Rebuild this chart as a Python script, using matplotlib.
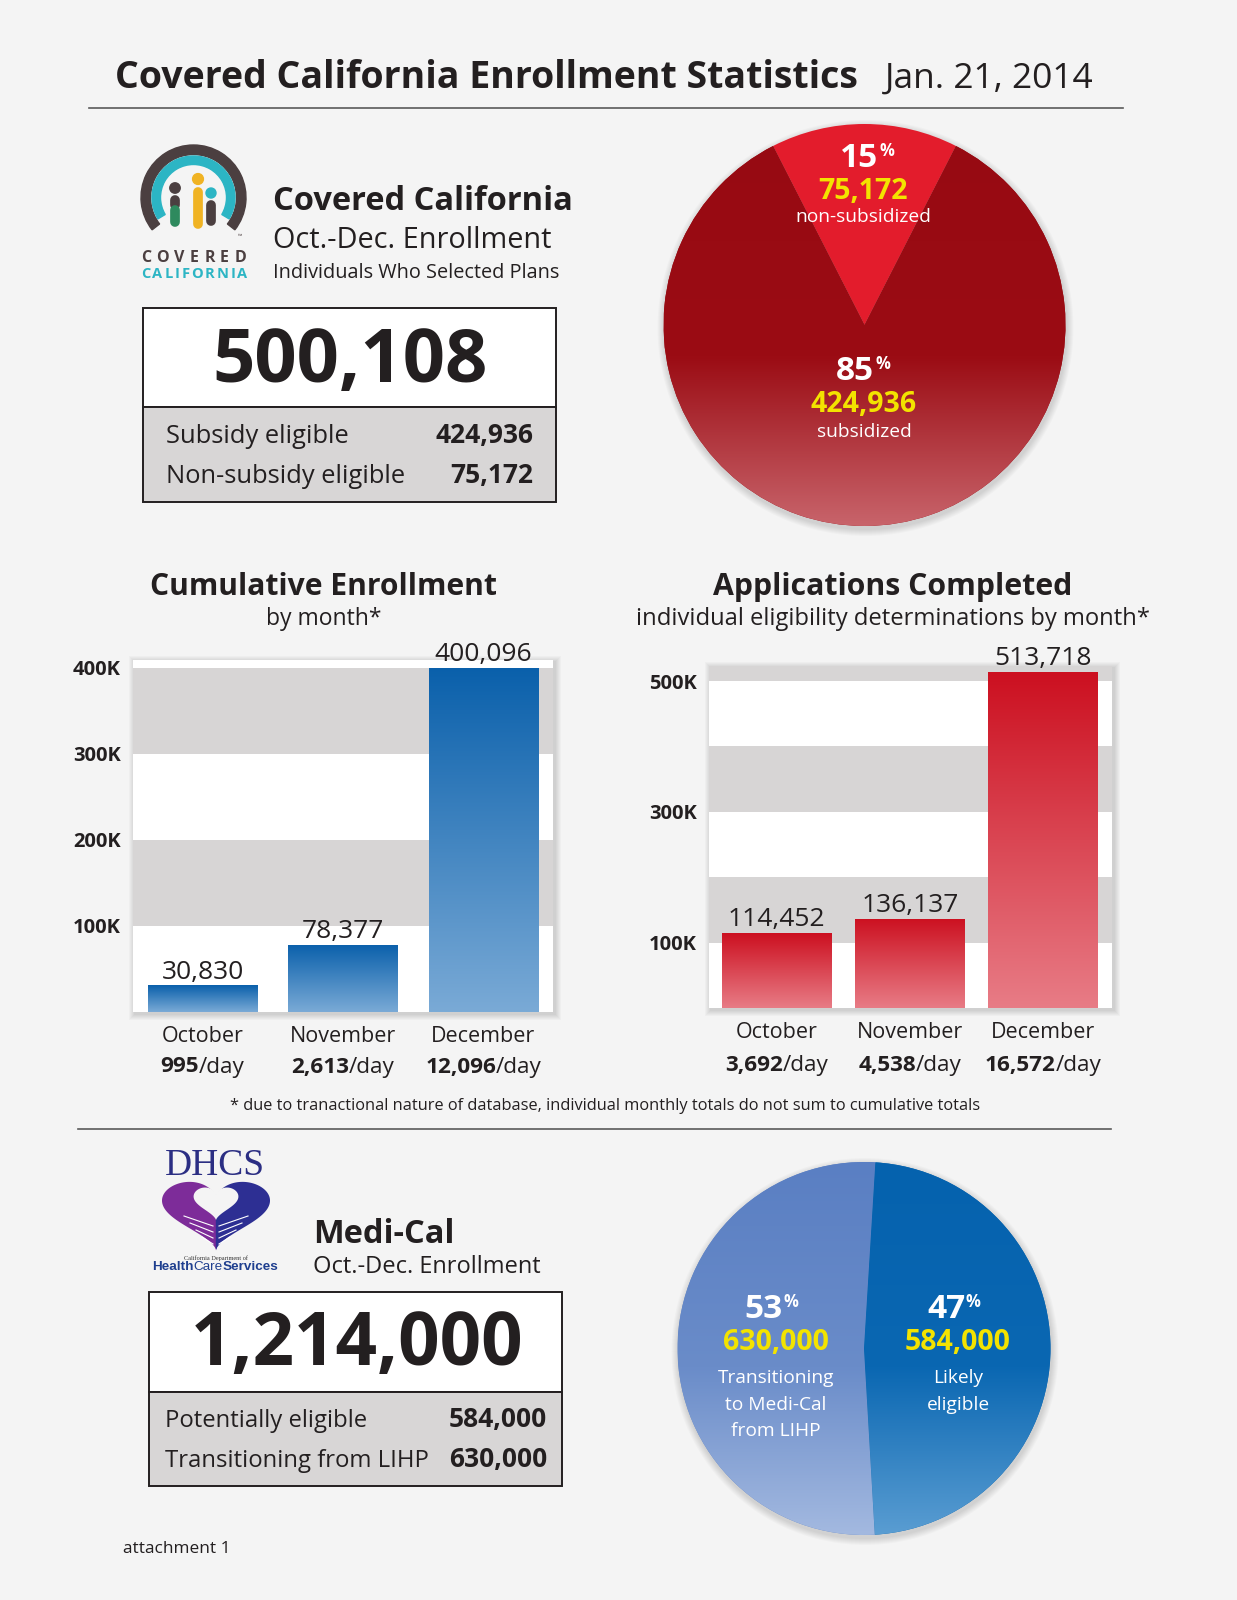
import matplotlib
matplotlib.use('Agg')
import matplotlib.pyplot as plt
from matplotlib.patches import Rectangle, Polygon, Circle, Wedge
from matplotlib.colors import LinearSegmentedColormap
from matplotlib.offsetbox import TextArea, HPacker, AnnotationBbox
import numpy as np

plt.rcParams['font.family'] = ['Open Sans', 'DejaVu Sans']

# ---- data
title = 'Covered California Enrollment Statistics'
report_date = 'Jan. 21, 2014'

cc_total = 500108
cc_labels = ['Subsidy eligible', 'Non-subsidy eligible']
cc_values = [424936, 75172]
cc_pie_values = [75172, 424936]          # non-subsidized, subsidized
cc_pie_pcts = ['15', '85']
cc_pie_names = ['non-subsidized', 'subsidized']

months = ['October', 'November', 'December']
cum_enroll = [30830, 78377, 400096]
cum_per_day = ['995', '2,613', '12,096']
cum_ticks = [100000, 200000, 300000, 400000]
cum_ticklabels = ['100K', '200K', '300K', '400K']

apps = [114452, 136137, 513718]
apps_per_day = ['3,692', '4,538', '16,572']
apps_ticks = [100000, 300000, 500000]
apps_ticklabels = ['100K', '300K', '500K']

mc_total = 1214000
mc_labels = ['Potentially eligible', 'Transitioning from LIHP']
mc_values = [584000, 630000]
mc_pie_values = [630000, 584000]         # transitioning, likely eligible
mc_pie_pcts = ['53', '47']
mc_pie_names = ['Transitioning\nto Medi-Cal\nfrom LIHP', 'Likely\neligible']

footnote = ('* due to tranactional nature of database, individual monthly '
            'totals do not sum to cumulative totals')

# ---- page setup (everything laid out in pixels)
W, H = 1237, 1600
BG = '#f4f4f4'
INK = '#231f20'
BAND = '#d7d5d5'
YELLOW = '#f3e300'

fig = plt.figure(figsize=(W / 100, H / 100), dpi=100, facecolor=BG)


def px_axes(l, t, r, b, **kw):
    return fig.add_axes([l / W, 1 - b / H, (r - l) / W, (b - t) / H], **kw)


def canvas(z):
    ax = px_axes(0, 0, W, H, zorder=z)
    ax.set_xlim(0, W)
    ax.set_ylim(H, 0)
    ax.axis('off')
    return ax


shadow = canvas(-1)
cv = canvas(10)


def txt(x, y, s, size, weight='normal', color=INK, ha='left', va='baseline', **kw):
    return cv.text(x, y, s, fontsize=size, fontweight=weight, color=color,
                   ha=ha, va=va, **kw)


def mixed(parts, size, color=INK, **kw):
    kids = [TextArea(s, textprops=dict(fontsize=size, fontweight=w, color=color, **kw))
            for s, w in parts]
    return HPacker(children=kids, align='baseline', pad=0, sep=0)


def tracked(word, x0, x1, y, size, color):
    # spread the letters of a logo word over a fixed width
    r = fig.canvas.get_renderer()
    ts = [txt(0, y, ch, size, 'bold', color=color, va='center') for ch in word]
    ws = [t.get_window_extent(r).width for t in ts]
    gap = (x1 - x0 - sum(ws)) / (len(word) - 1)
    x = x0
    for t, w in zip(ts, ws):
        t.set_x(x)
        x += w + gap


def soft_shadow(l, t, r, b):
    for k in range(1, 7):
        shadow.add_patch(Rectangle((l - k + 2, t - k + 2), r - l + 2 * k, b - t + 2 * k,
                                   fc='k', alpha=0.024, lw=0))


# ---- header
txt(115, 88, title, 27, 'bold')
txt(1094, 88, report_date, 25.5, ha='right')
cv.plot([89, 1123], [108, 108], color='#5a5a5a', lw=1.2)

# ---- Covered California logo
lcx, lcy = 193.5, 197.5
cv.add_patch(Wedge((lcx, lcy), 52.5, -218, 38, width=9.5, color='#4b3f40'))
cv.add_patch(Wedge((lcx, lcy), 41.5, -211, 31, width=8.5, color='#2cb5c4'))
cv.add_patch(Circle((175, 188), 5.2, color='#4b3f40'))
cv.plot([175, 175], [200, 205], color='#4b3f40', lw=7, solid_capstyle='round')
cv.plot([175, 175], [210, 222], color='#2e8a5e', lw=7, solid_capstyle='round')
cv.add_patch(Circle((198, 179), 5.4, color='#f0b323'))
cv.plot([198, 198], [192, 224], color='#f0b323', lw=7, solid_capstyle='round')
cv.add_patch(Circle((211, 193), 5, color='#2cb5c4'))
cv.plot([211, 211], [205, 221], color='#4b3f40', lw=7, solid_capstyle='round')
txt(240, 236, '\u2122', 4, color='#4b3f40', ha='center', va='center')
tracked('COVERED', 141, 246, 258, 11.5, '#4b3f40')
tracked('CALIFORNIA', 141, 247, 274, 10.5, '#2cb5c4')

txt(273, 210, 'Covered California', 23.5, 'bold')
txt(273, 248, 'Oct.-Dec. Enrollment', 20.8)
txt(273, 278, 'Individuals Who Selected Plans', 14.3)

# ---- Covered California totals box
cv.add_patch(Rectangle((143, 308), 413, 99, fc='white', ec=INK, lw=1.4))
cv.add_patch(Rectangle((143, 407), 413, 95, fc='#d8d6d6', ec=INK, lw=1.4))
txt(350, 382, f'{cc_total:,}', 53.5, 'bold', ha='center')
for y, lab, val in zip([443, 483], cc_labels, cc_values):
    txt(166, y, lab, 18.4)
    txt(533, y, f'{val:,}', 19, 'bold', ha='right')


# ---- pies
def gradient_pie(l, t, size, values, start, flat, ramps):
    ax = px_axes(l, t, l + size, t + size)
    wedges, _ = ax.pie(values, startangle=start, counterclock=True,
                       colors=flat, wedgeprops=dict(linewidth=0))
    grad = np.linspace(0, 1, 256).reshape(-1, 1)
    for w, ramp in zip(wedges, ramps):
        if ramp is None:
            continue
        cmap = LinearSegmentedColormap.from_list('g', ramp)
        im = ax.imshow(grad, cmap=cmap, extent=[-1, 1, -1, 1], origin='lower',
                       aspect='auto', zorder=2)
        im.set_clip_path(w)
    ax.set_xlim(-1, 1)
    ax.set_ylim(-1, 1)
    ax.axis('off')
    cx, cy, r = l + size / 2, t + size / 2, size / 2
    for k in range(1, 8):
        shadow.add_patch(Circle((cx + 1, cy + 3), r + k, fc='k', alpha=0.018, lw=0))
    return ax


def pie_label(split, base, pct, value, name, cx, name_off):
    txt(split, base, pct, 24, 'bold', color='white', ha='right')
    txt(split + 1, base - 11, '%', 12, 'bold', color='white')
    txt(cx, base + 32, f'{value:,}', 20.5, 'bold', color=YELLOW, ha='center')
    for j, line in enumerate(name.split('\n')):
        txt(cx, base + name_off + 26.5 * j, line, 13.8, color='white', ha='center')


cc_start = 90 - 180 * cc_pie_values[0] / sum(cc_pie_values)
gradient_pie(663.5, 124, 402, cc_pie_values, cc_start, ['#e31c2c', '#990b13'],
             [None, [(0, '#c8646b'), (0.42, '#9b0c14'), (1, '#970a12')]])
pie_label(878, 167, cc_pie_pcts[0], cc_pie_values[0], cc_pie_names[0], 863, 55)
pie_label(874, 380, cc_pie_pcts[1], cc_pie_values[1], cc_pie_names[1], 864, 57)


# ---- bar charts
def bar_chart(l, t, r, b, values, top, bands, ticks, ticklabels, xlim, width,
              ramp, per_day, day_off):
    soft_shadow(l, t, r, b)
    ax = px_axes(l, t, r, b)
    ax.set_facecolor('white')
    for lo, hi in bands:
        ax.axhspan(lo, hi, color=BAND, lw=0, zorder=0)
    x = np.arange(len(values))
    bars = ax.bar(x, values, width=width, color='none', zorder=2)
    cmap = LinearSegmentedColormap.from_list('bar', ramp)
    grad = np.linspace(1, 0, 256).reshape(-1, 1)
    for bar in bars:
        im = ax.imshow(grad, cmap=cmap, aspect='auto', zorder=2,
                       extent=[bar.get_x(), bar.get_x() + bar.get_width(), 0, bar.get_height()])
        im.set_clip_path(bar)
    for i, v in enumerate(values):
        ax.annotate(f'{v:,}', (i, v), xytext=(0, 5), textcoords='offset points',
                    ha='center', va='baseline', fontsize=19, color=INK)
    tr = ax.get_xaxis_transform()
    for i, (m, d) in enumerate(zip(months, per_day)):
        ax.annotate(m, (i, 0), xycoords=tr, xytext=(0, -30 * 0.72), textcoords='offset points',
                    ha='center', va='baseline', fontsize=15.5, color=INK, annotation_clip=False)
        box = mixed([(d, 'bold'), ('/day', 'normal')], 16.2)
        ax.add_artist(AnnotationBbox(box, (i, 0), xycoords=tr, xybox=(0, -day_off * 0.72),
                                     boxcoords='offset points', frameon=False, pad=0,
                                     box_alignment=(0.5, 0.5), annotation_clip=False))
    ax.set_xlim(*xlim)
    ax.set_ylim(0, top)
    ax.set_xticks([])
    ax.set_yticks(ticks)
    ax.set_yticklabels(ticklabels, fontsize=14.5, fontweight='bold', color=INK)
    ax.tick_params(axis='y', length=0, pad=8.6)
    for s in ax.spines.values():
        s.set_visible(False)
    return ax


txt(324, 595, 'Cumulative Enrollment', 21.6, 'bold', ha='center')
txt(324, 625, 'by month*', 16.5, ha='center')
bar_chart(133, 660, 553, 1012, cum_enroll, 409000, [(100000, 200000), (300000, 400000)],
          cum_ticks, cum_ticklabels, (-0.495, 2.495), 0.776,
          [(0, '#7aaad6'), (1, '#0a60ab')], cum_per_day, 55)

txt(893, 595, 'Applications Completed', 21.8, 'bold', ha='center')
txt(893, 625, 'individual eligibility determinations by month*', 17.1, ha='center')
bar_chart(709, 666, 1112, 1008, apps, 523000,
          [(100000, 200000), (300000, 400000), (500000, 600000)],
          apps_ticks, apps_ticklabels, (-0.51, 2.52), 0.827,
          [(0, '#e87c86'), (1, '#cc1020')], apps_per_day, 58)

txt(605, 1110, footnote, 11.8, ha='center')
cv.plot([78, 1111], [1129, 1129], color='#5a5a5a', lw=1.2)

# ---- DHCS logo
txt(215, 1175, 'DHCS', 27, family='Liberation Serif', color='#2b2e83', ha='center')
tt = np.linspace(0, 2 * np.pi, 300)
hx = 16 * np.sin(tt) ** 3
hy = 13 * np.cos(tt) - 5 * np.cos(2 * tt) - 2 * np.cos(3 * tt) - np.cos(4 * tt)
heart = Polygon(np.c_[216 + 3.375 * hx, 1210 - 2.36 * hy], closed=True, fc='none', ec='none')
cv.add_patch(heart)
for x0, col in [(160, '#7d2c99'), (216, '#2d2f93')]:
    half = Rectangle((x0, 1178), 56, 76, color=col)
    cv.add_patch(half)
    half.set_clip_path(heart)
cv.add_patch(Polygon(np.c_[216 + 1.4 * hx, 1201 - 1.13 * hy], closed=True, fc=BG, ec='none'))
for k in range(4):
    y0 = 1226 + 6 * k
    cv.plot([213, 184 + 6 * k], [y0, y0 - 10 + k], color='white', lw=0.8)
    cv.plot([219, 248 - 6 * k], [y0, y0 - 10 + k], color='white', lw=0.8)
txt(216, 1260, 'California Department of', 4.5, family='Liberation Serif', color='#333333', ha='center')
hcs = mixed([('Health', 'bold'), ('Care', 'normal'), ('Services', 'bold')], 9.7,
            color='#1f3f8f', family='Liberation Sans')
cv.add_artist(AnnotationBbox(hcs, (215, 1267), xycoords='data', frameon=False, pad=0,
                             box_alignment=(0.5, 0.5)))

txt(313, 1243, 'Medi-Cal', 23.5, 'bold')
txt(313, 1273, 'Oct.-Dec. Enrollment', 17)

# ---- Medi-Cal totals box
cv.add_patch(Rectangle((149, 1292), 413, 100, fc='white', ec=INK, lw=1.4))
cv.add_patch(Rectangle((149, 1392), 413, 94, fc='#d8d6d6', ec=INK, lw=1.4))
txt(357, 1365, f'{mc_total:,}', 52.3, 'bold', ha='center')
for y, lab, val in zip([1427, 1467], mc_labels, mc_values):
    txt(165, y, lab, 17.2)
    txt(547, y, f'{val:,}', 19, 'bold', ha='right')

# ---- blue pie
gradient_pie(677.5, 1162, 373, mc_pie_values, 86.5, ['#6386c6', '#0764b0'],
             [[(0, '#a3b9e0'), (0.45, '#6a8cc9'), (1, '#5a7fc3')],
              [(0, '#5a9dd2'), (0.45, '#0a67b2'), (1, '#0562ae')]])
pie_label(783, 1318, mc_pie_pcts[0], mc_pie_values[0], mc_pie_names[0], 776, 65)
pie_label(965, 1318, mc_pie_pcts[1], mc_pie_values[1], mc_pie_names[1], 958, 65)

txt(123, 1553, 'attachment 1', 12.4)

fig.savefig('out.png', dpi=100, facecolor=BG)
